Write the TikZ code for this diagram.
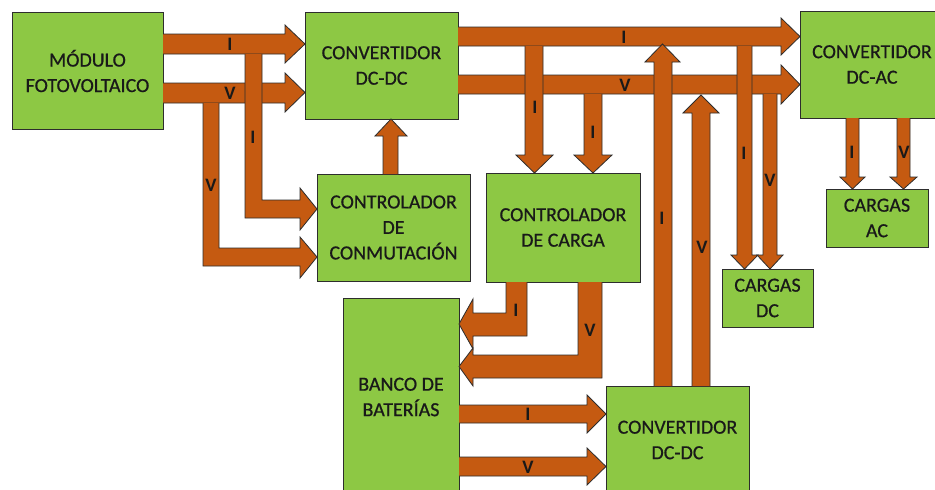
\documentclass[tikz,border=0pt]{standalone}
\usepackage{fontspec}
\setmainfont{Carlito}
\newfontfamily\boxfont{Carlito}[FakeBold=0.7]
\definecolor{boxgreen}{RGB}{141,200,68}
\definecolor{arrorange}{RGB}{197,90,17}
\definecolor{edgegray}{RGB}{45,45,45}
\tikzset{
  box/.style={draw=edgegray, line width=0.9pt, fill=boxgreen, align=center,
    inner sep=0pt, font=\boxfont\fontsize{20}{25.5}\selectfont, text=black!90},
  barrow/.style={draw=edgegray, line width=0.8pt, fill=arrorange, line join=miter},
  lbl/.style={font=\bfseries\fontsize{19}{20}\selectfont, text=black!90, inner sep=0pt}
}
\begin{document}
\begin{tikzpicture}[x=1pt,y=-1pt]
\useasboundingbox (0,0) rectangle (935,490);
\clip (0,0) rectangle (935,490);
\fill[white] (0,0) rectangle (935,490);

% boxes
\node[box, minimum width=151pt, minimum height=117pt] (pv) at (87.5,71) {MÓDULO\\FOTOVOLTAICO};
\node[box, minimum width=153pt, minimum height=107pt] (dca) at (381.5,65.5) {CONVERTIDOR\\DC-DC};
\node[box, minimum width=153pt, minimum height=107pt] (conm) at (393.5,227.5) {CONTROLADOR\\DE\\CONMUTACIÓN};
\node[box, minimum width=154pt, minimum height=109pt] (carga) at (563,227.5) {CONTROLADOR\\DE CARGA};
\node[box, minimum width=144pt, minimum height=107pt] (dcac) at (872,64.5) {CONVERTIDOR\\DC-AC};
\node[box, minimum width=102pt, minimum height=58pt] (cac) at (877,218) {CARGAS\\AC};
\node[box, minimum width=91pt, minimum height=58pt] (cdc) at (767.5,298) {CARGAS\\DC};
\node[box, minimum width=116pt, minimum height=198pt] (banco) at (401,397) {BANCO DE\\BATERÍAS};
\node[box, minimum width=143pt, minimum height=108pt] (dcb) at (677.5,440) {CONVERTIDOR\\DC-DC};

% PV -> DC-DC
\path[barrow] (163,34) -- (285,34) -- (285,25) -- (305,44) -- (285,63) -- (285,54) -- (163,54);
\path[barrow] (163,83) -- (285,83) -- (285,73) -- (305,92.5) -- (285,112) -- (285,103) -- (163,103);
% branches to controlador de conmutacion
\path[barrow] (262,54) -- (262,200) -- (300,200) -- (300,188) -- (317,209) -- (300,230) -- (300,218) -- (245,218) -- (245,54);
\path[barrow] (219,103) -- (219,248) -- (300,248) -- (300,237) -- (317,257) -- (300,278) -- (300,266) -- (203,266) -- (203,103);
% conmutacion -> DC-DC
\path[barrow] (383,174) -- (383,136) -- (375,136) -- (391,119) -- (407,136) -- (398,136) -- (398,174);

% DC-DC -> DC-AC
\path[barrow] (458,27) -- (781,27) -- (781,18) -- (800,36.5) -- (781,55) -- (781,46) -- (458,46);
\path[barrow] (458,75) -- (781,75) -- (781,65) -- (800,84.5) -- (781,104) -- (781,94) -- (458,94);

% branches to controlador de carga
\path[barrow] (543,46) -- (543,155) -- (553,155) -- (534.5,173) -- (516,155) -- (525,155) -- (525,46);
\path[barrow] (602,94) -- (602,155) -- (612,155) -- (593,173) -- (574,155) -- (584,155) -- (584,94);

% branches to cargas DC
\path[barrow] (752,46) -- (752,255) -- (758,255) -- (744.5,269) -- (731,255) -- (737,255) -- (737,46);
\path[barrow] (777,94) -- (777,255) -- (783,255) -- (770,269) -- (757,255) -- (763,255) -- (763,94);

% DC-DC (bottom) -> buses
\path[barrow] (672,386) -- (672,62) -- (680,62) -- (662.5,44) -- (645,62) -- (654,62) -- (654,386);
\path[barrow] (710,386) -- (710,113) -- (719,113) -- (701,95) -- (683,113) -- (692,113) -- (692,386);

% DC-AC -> cargas AC
\path[barrow] (859,118) -- (859,177) -- (865,177) -- (852.5,189) -- (840,177) -- (846,177) -- (846,118);
\path[barrow] (910,118) -- (910,177) -- (917,177) -- (903.5,189) -- (890,177) -- (897,177) -- (897,118);

% controlador de carga -> banco
\path[barrow] (527,282) -- (527,336) -- (473,336) -- (473,349) -- (459,324) -- (473,299) -- (473,313) -- (506,313) -- (506,282);
\path[barrow] (602,282) -- (602,378) -- (473,378) -- (473,386) -- (459,366.5) -- (473,348) -- (473,355) -- (578,355) -- (578,282);

% banco -> DC-DC bottom
\path[barrow] (459,405) -- (587,405) -- (587,395) -- (606,414) -- (587,433) -- (587,423) -- (459,423);
\path[barrow] (459,457) -- (587,457) -- (587,448) -- (606,466.5) -- (587,485) -- (587,476) -- (459,476);

% labels
\node[lbl] (l1) at (230,44) {I};
\node[lbl] (l2) at (230,93) {V};
\node[lbl] (l3) at (253,137) {I};
\node[lbl] (l4) at (211,185) {V};
\node[lbl] (l5) at (624,37) {I};
\node[lbl] (l6) at (625,85) {V};
\node[lbl] (l7) at (535,107) {I};
\node[lbl] (l8) at (593,132) {I};
\node[lbl] (l9) at (662,218) {I};
\node[lbl] (l10) at (702,247) {V};
\node[lbl] (l11) at (744,153) {I};
\node[lbl] (l12) at (770,180) {V};
\node[lbl] (l13) at (852,152) {I};
\node[lbl] (l14) at (904,152) {V};
\node[lbl] (l15) at (516,310) {I};
\node[lbl] (l16) at (590,330) {V};
\node[lbl] (l17) at (528,414) {I};
\node[lbl] (l18) at (528,467) {V};
\end{tikzpicture}
\end{document}
